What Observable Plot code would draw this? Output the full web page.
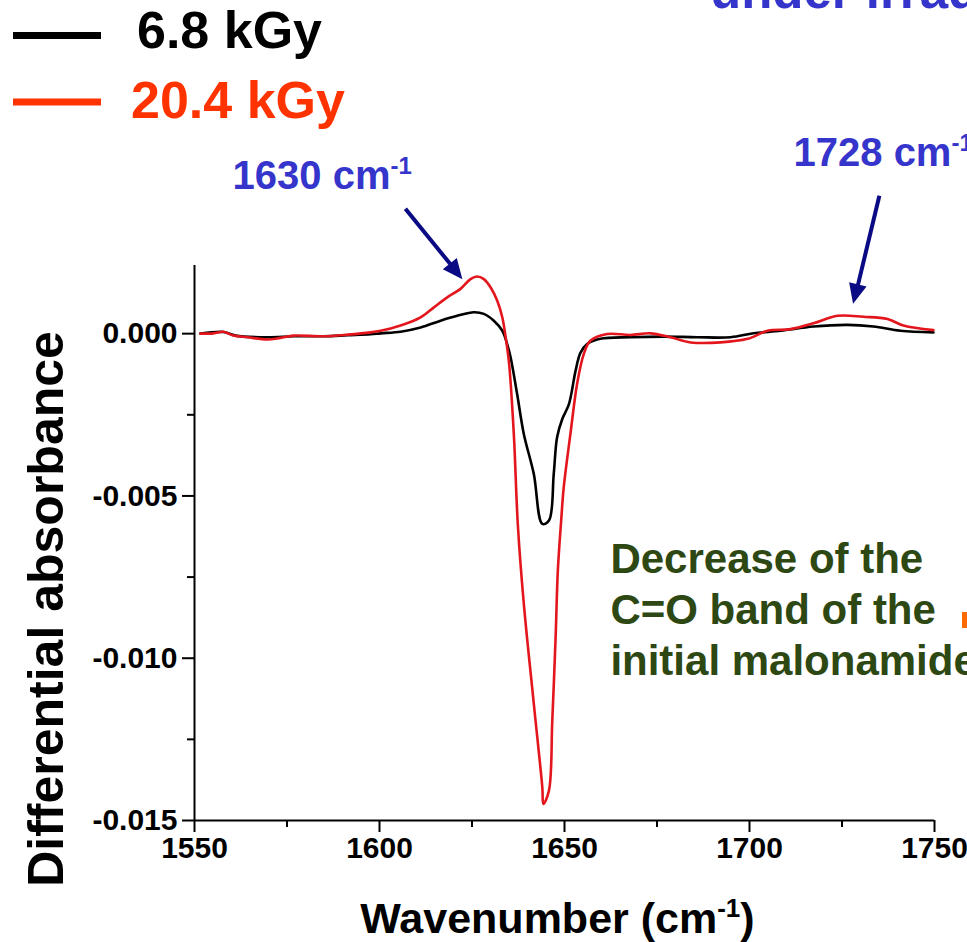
<!DOCTYPE html>
<html>
<head>
<meta charset="utf-8">
<script src="https://cdn.jsdelivr.net/npm/d3@7"></script>
<script src="https://cdn.jsdelivr.net/npm/@observablehq/plot@0.6"></script>
<style>
  html, body { margin: 0; padding: 0; background: #fff; }
  #figure { position: relative; width: 967px; height: 942px; overflow: hidden; }
  #figure svg { position: absolute; left: 0; top: 0; }
</style>
</head>
<body>
<div id="figure"></div>
<script>
// FTIR difference spectra of malonamide after two irradiation doses
const series = ["6.8 kGy", "20.4 kGy"];
const seriesColors = ["#000000", "#e3161d"];
const legendColors = ["#000000", "#ff3300"];

// 6.8 kGy spectrum
const wn68 = [1551.6, 1557.8, 1561.1, 1569.7, 1576.8, 1584.9, 1591.4, 1597.6, 1600.3, 1605.7,
  1611.1, 1616.5, 1621.0, 1625.5, 1628.2, 1630.9, 1633.2, 1634.5, 1635.4, 1637.2,
  1639.0, 1641.7, 1644.0, 1645.8, 1647.1, 1648.0, 1649.4, 1651.2, 1653.0, 1654.3,
  1656.1, 1659.7, 1667.8, 1676.8, 1685.9, 1694.9, 1701.1, 1708.4, 1717.3, 1726.5,
  1733.5, 1740.8, 1749.7];
const abs68 = [0.00000, 0.00005, -0.00006, -0.00011, -0.00008, -0.00008, -0.00005, -0.00002, 0.00001, 0.00006,
  0.00019, 0.00040, 0.00055, 0.00066, 0.00061, 0.00040, 0.00009, -0.00032, -0.00071, -0.00186,
  -0.00309, -0.00432, -0.00586, -0.00576, -0.00431, -0.00319, -0.00263, -0.00217, -0.00114, -0.00059,
  -0.00032, -0.00016, -0.00011, -0.00009, -0.00011, -0.00011, 0.00001, 0.00009, 0.00022, 0.00027,
  0.00022, 0.00009, 0.00004];

// 20.4 kGy spectrum
const wn204 = [1551.6, 1555.1, 1557.8, 1560.5, 1564.3, 1569.7, 1573.2, 1576.8, 1584.9, 1591.4,
  1597.6, 1600.3, 1605.7, 1611.1, 1614.7, 1618.3, 1621.9, 1624.6, 1626.4, 1628.2,
  1630.0, 1631.8, 1633.2, 1634.1, 1635.0, 1636.3, 1637.4, 1639.0, 1641.7, 1644.0,
  1644.3, 1645.8, 1646.7, 1647.6, 1648.2, 1649.1, 1649.8, 1651.6, 1653.4, 1655.2,
  1657.0, 1661.5, 1667.8, 1673.2, 1678.6, 1684.1, 1692.2, 1699.5, 1704.9, 1711.1,
  1717.3, 1723.8, 1730.8, 1737.3, 1741.6, 1749.7];
const abs204 = [0.00000, 0.00001, 0.00006, -0.00006, -0.00011, -0.00018, -0.00013, -0.00006, -0.00008, -0.00003,
  0.00004, 0.00009, 0.00025, 0.00050, 0.00081, 0.00112, 0.00138, 0.00168, 0.00176, 0.00168,
  0.00143, 0.00102, 0.00050, -0.00011, -0.00089, -0.00309, -0.00591, -0.00832, -0.01140, -0.01397,
  -0.01449, -0.01408, -0.01192, -0.00935, -0.00730, -0.00576, -0.00473, -0.00309, -0.00155, -0.00063,
  -0.00022, -0.00001, -0.00004, 0.00001, -0.00011, -0.00027, -0.00027, -0.00016, 0.00009, 0.00014,
  0.00032, 0.00055, 0.00052, 0.00045, 0.00025, 0.00011];

const xTicks = [1550, 1600, 1650, 1700, 1750];
const xMinorTicks = [1575, 1625, 1675, 1725];
const yTicks = [0, -0.005, -0.010, -0.015];
const yMinorTicks = [-0.0025, -0.0075, -0.0125];

const spectra = [
  ...wn68.map((w, i) => ({series: series[0], wavenumber: w, absorbance: abs68[i]})),
  ...wn204.map((w, i) => ({series: series[1], wavenumber: w, absorbance: abs204[i]}))
];

const blue = "#3535cc";
const navy = "#0a0a84";
const green = "#2e4813";
const font = "Liberation Sans, Arial, Helvetica, sans-serif";

const chart = Plot.plot({
  width: 967,
  height: 942,
  marginLeft: 194,
  marginRight: 33,
  marginTop: 265,
  marginBottom: 122,
  style: {fontFamily: font, background: "transparent", overflow: "visible", color: "#000"},
  x: {domain: [1550, 1750]},
  y: {domain: [-0.015, 0.0021]},
  color: {domain: series, range: seriesColors},
  marks: [
    Plot.ruleX([1550], {strokeWidth: 2}),
    Plot.ruleY([-0.015], {strokeWidth: 2}),
    Plot.axisY(yTicks, {anchor: "left", tickSize: 12, tickPadding: 5, strokeWidth: 2,
      tickFormat: d => d.toFixed(3), fontSize: 30, fontWeight: "bold", label: null}),
    Plot.axisY(yMinorTicks, {anchor: "left", tickSize: 7, strokeWidth: 2,
      tickFormat: () => "", label: null}),
    Plot.axisX(xTicks, {anchor: "bottom", tickSize: 12, tickPadding: 4, strokeWidth: 2,
      tickFormat: d => String(d), fontSize: 30, fontWeight: "bold", label: null}),
    Plot.axisX(xMinorTicks, {anchor: "bottom", tickSize: 7, strokeWidth: 2,
      tickFormat: () => "", label: null}),
    Plot.line(spectra, {x: "wavenumber", y: "absorbance", z: "series", stroke: "series",
      strokeWidth: 2.6, curve: "catmull-rom"}),
    // axis titles
    Plot.text(["Differential absorbance"], {frameAnchor: "left", rotate: -90, dx: -132, dy: 66,
      textAnchor: "middle", lineAnchor: "bottom", fontSize: 50, fontWeight: "bold", fill: "#000"}),
    Plot.text(["Wavenumber (cm-1)"], {frameAnchor: "bottom", dx: -7, dy: 112,
      textAnchor: "middle", lineAnchor: "bottom", fontSize: 43, fontWeight: "bold", fill: "#000"}),
    // band annotations
    Plot.text(["1630 cm-1"], {x: 1560.3, y: 0.00447, textAnchor: "start", lineAnchor: "bottom",
      fontSize: 40, fontWeight: "bold", fill: blue}),
    Plot.text(["1728 cm-1"], {x: 1711.9, y: 0.00517, textAnchor: "start", lineAnchor: "bottom",
      fontSize: 40, fontWeight: "bold", fill: blue}),
    Plot.link([0], {x1: 1607.0, y1: 0.00385, x2: 1619.3, y2: 0.00212, stroke: navy, strokeWidth: 4}),
    Plot.vector([0], {x: 1622.4, y: 0.00168, length: 20, rotate: 141, r: 9, shape: "spike",
      anchor: "end", fill: navy, stroke: "none"}),
    Plot.link([0], {x1: 1735.1, y1: 0.00425, x2: 1729.2, y2: 0.00145, stroke: navy, strokeWidth: 4}),
    Plot.vector([0], {x: 1728.0, y: 0.00092, length: 20, rotate: 193.7, r: 9, shape: "spike",
      anchor: "end", fill: navy, stroke: "none"}),
    Plot.text(["Decrease of the\nC=O band of the\ninitial malonamide"], {x: 1662.4, y: -0.01053,
      textAnchor: "start", lineAnchor: "bottom", lineHeight: 1.22, fontSize: 42, fontWeight: "bold",
      fill: green})
  ]
});

const figure = document.getElementById("figure");
figure.appendChild(chart);

// raise the "-1" of every "cm-1" unit into a superscript
d3.select(chart).selectAll("text").each(function() {
  if (this.querySelector("tspan")) return;
  const m = this.textContent.match(/^(.*cm)-1(\)?)$/);
  if (!m) return;
  const size = parseFloat(getComputedStyle(this).fontSize);
  const rise = Math.round(size * 0.38);
  const el = d3.select(this).text(null);
  el.append("tspan").text(m[1]);
  el.append("tspan").attr("dy", -rise).attr("font-size", Math.round(size * 0.6)).text("-1");
  if (m[2]) el.append("tspan").attr("dy", rise).text(m[2]);
});

// legend, slide heading and side marker drawn above the plot area
const overlay = d3.select(figure).append("svg")
  .attr("width", 967).attr("height", 942)
  .style("font-family", font).style("font-weight", "bold")
  .style("pointer-events", "none");

overlay.append("text").attr("x", 710).attr("y", 8)
  .attr("font-size", 51).attr("fill", blue).text("under irradiation");

const legendRows = [{y: 35.5, base: 48, tx: 137}, {y: 102, base: 118, tx: 131}];
const legend = overlay.append("g").selectAll("g").data(series).join("g");
legend.append("line")
  .attr("x1", 13).attr("x2", 101)
  .attr("y1", (d, i) => legendRows[i].y).attr("y2", (d, i) => legendRows[i].y)
  .attr("stroke", (d, i) => legendColors[i]).attr("stroke-width", 7);
legend.append("text")
  .attr("x", (d, i) => legendRows[i].tx).attr("y", (d, i) => legendRows[i].base)
  .attr("font-size", 52).attr("fill", (d, i) => legendColors[i]).text(d => d);

overlay.append("rect").attr("x", 962).attr("y", 612).attr("width", 10).attr("height", 16)
  .attr("fill", "#ff6a00");
</script>
</body>
</html>
